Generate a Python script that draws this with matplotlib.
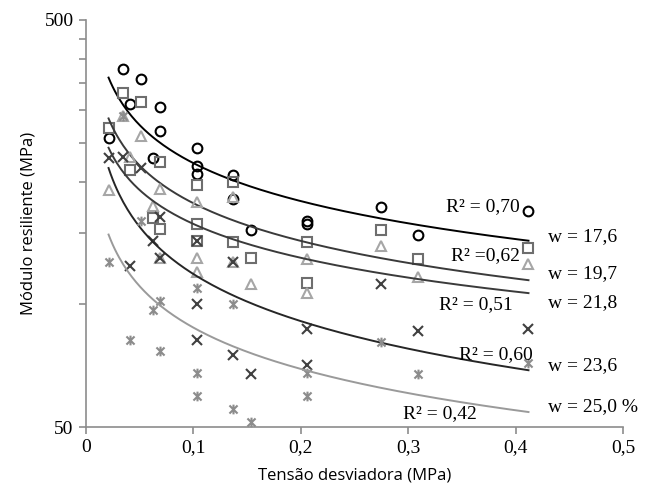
import numpy as np
import matplotlib.pyplot as plt
from matplotlib.path import Path
from matplotlib.ticker import FixedLocator, NullFormatter

# tensao desviadora (MPa), same sequence for all moisture contents
tensao = [0.021, 0.041, 0.062, 0.034, 0.069, 0.103, 0.051, 0.103, 0.154,
          0.069, 0.137, 0.206, 0.103, 0.206, 0.309, 0.137, 0.275, 0.412]

# modulo resiliente (MPa) per moisture content
mr_176 = [256, 311, 229, 379, 306, 242, 358, 219, 152, 267, 208, 160, 209, 158, 148, 182, 174, 170]
mr_197 = [271, 214, 163, 331, 224, 197, 314, 158, 130, 153, 200, 142, 143, 113, 129, 142, 152, 138]
mr_218 = [191, 230, 175, 290, 192, 179, 259, 130, 112, 130, 184, 129, 120, 107, 117, 127, 139, 126]
mr_236 = [229, 124, 143, 230, 164, 143, 216, 100, 67.5, 130, 127, 87, 82, 71, 86, 75, 112, 87]
mr_250 = [127, 82, 97, 290, 102, 110, 160, 68, 51.5, 77, 100, 68, 59.6, 59.6, 67.5, 55.3, 81, 71.7]

r2_labels = ["R² = 0,70", "R² =0,62", "R² = 0,51", "R² = 0,60", "R² = 0,42"]
w_labels = ["w = 17,6", "w = 19,7", "w = 21,8", "w = 23,6", "w = 25,0 %"]

# asterisk marker like the spreadsheet one (x with a vertical stroke)
star = Path([(-1, -1), (1, 1), (-1, 1), (1, -1), (0, -1.2), (0, 1.2)],
            [Path.MOVETO, Path.LINETO, Path.MOVETO, Path.LINETO, Path.MOVETO, Path.LINETO])

series = [
    (mr_176, dict(marker='o', mec='black', ms=7), 'black'),
    (mr_197, dict(marker='s', mec='#6e6e6e', ms=6.5), '#3a3a3a'),
    (mr_218, dict(marker='^', mec='#a6a6a6', ms=7), '#3a3a3a'),
    (mr_236, dict(marker='x', mec='#404040', ms=7), '#262626'),
    (mr_250, dict(marker=star, mec='#8c8c8c', ms=7), '#9a9a9a'),
]

fig = plt.figure(figsize=(6.45, 4.92), dpi=100)
ax = fig.add_axes([86/645, 65/492, 537/645, 407/492])

x = np.array(tensao)
xs = np.linspace(x.min(), x.max(), 200)
for vals, mk, lc in series:
    y = np.array(vals, dtype=float)
    ax.plot(x, y, ls='none', mfc='none', mew=1.5, **mk)
    # power trendline fitted in log-log space
    b, lna = np.polyfit(np.log(x), np.log(y), 1)
    ax.plot(xs, np.exp(lna) * xs**b, color=lc, lw=1.4)

ax.set_yscale('log')
ax.set_xlim(0, 0.5)
ax.set_ylim(50, 500)
ax.yaxis.set_major_locator(FixedLocator([50, 500]))
ax.yaxis.set_minor_locator(FixedLocator(np.arange(100, 500, 50)))
ax.yaxis.set_minor_formatter(NullFormatter())
ax.set_yticklabels(['50', '500'])
ax.set_xticks(np.arange(0, 0.51, 0.1))
ax.set_xticklabels(['0', '0,1', '0,2', '0,3', '0,4', '0,5'])

for s in ['top', 'right']:
    ax.spines[s].set_visible(False)
for s in ['left', 'bottom']:
    ax.spines[s].set_color('#8c8c8c')
    ax.spines[s].set_linewidth(1.2)
ax.tick_params(which='both', length=5, color='#8c8c8c', width=1.2)
ax.tick_params(labelsize=14, pad=4)
for lab in ax.get_xticklabels() + ax.get_yticklabels():
    lab.set_family('Liberation Serif')

ax.set_xlabel('Tensão desviadora (MPa)', fontsize=12, family='Open Sans', labelpad=8)
ax.set_ylabel('Módulo resiliente (MPa)', fontsize=12, family='Open Sans', labelpad=6)

r2_pos = [(0.808, 0.541), (0.808, 0.420), (0.795, 0.300), (0.832, 0.177), (0.728, 0.034)]
for t, (px, py) in zip(r2_labels, r2_pos):
    ax.text(px, py, t, transform=ax.transAxes, ha='right', va='center',
            fontsize=14, family='Liberation Serif')
w_y = [0.467, 0.378, 0.305, 0.152, 0.049]
for t, py in zip(w_labels, w_y):
    ax.text(0.860, py, t, transform=ax.transAxes, ha='left', va='center',
            fontsize=14, family='Liberation Serif', clip_on=False)

fig.savefig('out.png', dpi=100)
